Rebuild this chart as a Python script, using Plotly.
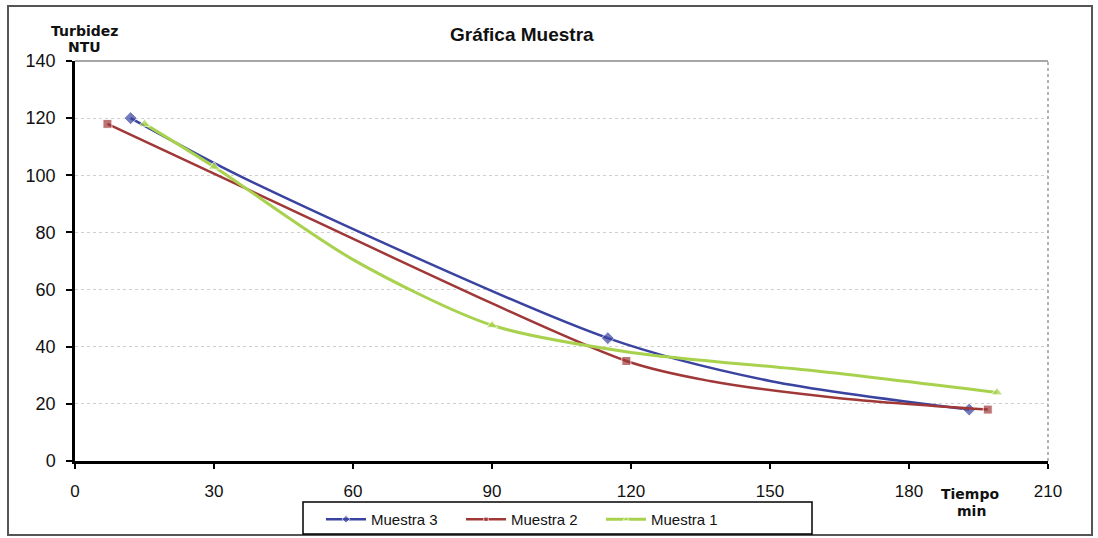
import plotly.graph_objects as go

# ---- data ----
t_m3 = [12, 36.5, 115, 150, 193]
v_m3 = [120, 99, 43, 28, 18]
mk_m3 = [True, False, True, False, True]

t_m2 = [7, 36, 119, 137, 165, 197]
v_m2 = [118, 96, 35, 28, 22, 18]
mk_m2 = [True, False, True, False, False, True]

t_m1 = [15, 30, 60, 90, 120, 160, 199]
v_m1 = [118, 103, 70.5, 47.5, 38, 31.5, 24]
mk_m1 = [True, True, False, True, False, False, True]

x_ticks = [0, 30, 60, 90, 120, 150, 180, 210]
y_ticks = [0, 20, 40, 60, 80, 100, 120, 140]

BLUE = "#3a44a0"
RED = "#a03838"
GREEN = "#a8d24e"
FONT = "Liberation Sans, Arial, sans-serif"


def sizes(flags, s):
    return [s if f else 0 for f in flags]


fig = go.Figure()
fig.add_trace(go.Scatter(
    x=t_m3, y=v_m3, name="Muestra 3", mode="lines+markers",
    line=dict(color=BLUE, width=2.5, shape="spline", smoothing=0.8),
    marker=dict(symbol="diamond", size=sizes(mk_m3, 10), color=BLUE),
))
fig.add_trace(go.Scatter(
    x=t_m2, y=v_m2, name="Muestra 2", mode="lines+markers",
    line=dict(color=RED, width=2.5, shape="spline", smoothing=0.8),
    marker=dict(symbol="square", size=sizes(mk_m2, 9), color=RED),
))
fig.add_trace(go.Scatter(
    x=t_m1, y=v_m1, name="Muestra 1", mode="lines+markers",
    line=dict(color=GREEN, width=3, shape="spline", smoothing=0.8),
    marker=dict(symbol="triangle-up", size=sizes(mk_m1, 10), color=GREEN),
))

fig.update_layout(
    width=1098, height=538,
    margin=dict(l=75, r=50, t=61, b=77, autoexpand=False),
    paper_bgcolor="white", plot_bgcolor="white",
    font=dict(family=FONT, color="#111", size=16),
    showlegend=True,
    legend=dict(
        orientation="h", x=(321 - 75) / 973, y=(461 - 503) / 400,
        xanchor="left", yanchor="top",
        font=dict(family=FONT, size=15, color="#111"),
        bgcolor="rgba(0,0,0,0)", borderwidth=0,
        itemwidth=40, entrywidth=85, traceorder="normal",
    ),
    xaxis=dict(
        range=[0, 210], tickvals=x_ticks, ticktext=[str(v) for v in x_ticks],
        showgrid=False, zeroline=False,
        showline=True, linecolor="#000", linewidth=2.5,
        ticks="outside", ticklen=5, tickwidth=2, tickcolor="#000",
        ticklabelstandoff=8, tickfont=dict(size=17, family=FONT),
    ),
    yaxis=dict(
        range=[0, 140], tickvals=y_ticks, ticktext=[str(v) for v in y_ticks],
        showgrid=True, gridcolor="#cfcfcf", griddash="dot", gridwidth=1,
        zeroline=False,
        showline=True, linecolor="#000", linewidth=2.5,
        ticks="outside", ticklen=6, tickwidth=2, tickcolor="#000",
        ticklabelstandoff=7, tickfont=dict(size=18, family=FONT),
    ),
)

# Outer chart frame
fig.add_shape(type="rect", xref="paper", yref="paper",
              x0=(8 - 75) / 973, x1=(1092 - 75) / 973,
              y0=(461 - 535) / 400, y1=(461 - 6) / 400,
              line=dict(color="#555", width=2), layer="below")
# Plot area border (top / right)
fig.add_shape(type="line", xref="paper", yref="paper", x0=0, x1=1, y0=1, y1=1,
              line=dict(color="#8a8a8a", width=1.5))
fig.add_shape(type="line", xref="paper", yref="paper", x0=1, x1=1, y0=0, y1=1,
              line=dict(color="#9a9a9a", width=1.5, dash="dot"))
# Legend box
fig.add_shape(type="rect", xref="paper", yref="paper",
              x0=(303 - 75) / 973, x1=(812 - 75) / 973,
              y0=(461 - 534) / 400, y1=(461 - 502) / 400,
              line=dict(color="#000", width=1.5))

# Title and axis titles
fig.add_annotation(text="<b>Gráfica Muestra</b>", xref="paper", yref="paper",
                   x=(522 - 75) / 973, y=(461 - 34) / 400, showarrow=False,
                   xanchor="center", yanchor="middle",
                   font=dict(family="Liberation Sans Narrow, Liberation Sans, Arial", size=19, color="#111"))
for txt, px, py in [("Turbidez", 84, 31), ("NTU", 84, 47), ("Tiempo", 970, 494), ("min", 971, 511)]:
    fig.add_annotation(text="<b>%s</b>" % txt, xref="paper", yref="paper",
                       x=(px - 75) / 973, y=(461 - py) / 400, showarrow=False,
                       xanchor="center", yanchor="middle",
                       font=dict(family="DejaVu Sans, Verdana", size=14, color="#111"))

fig.write_html("out.html")
